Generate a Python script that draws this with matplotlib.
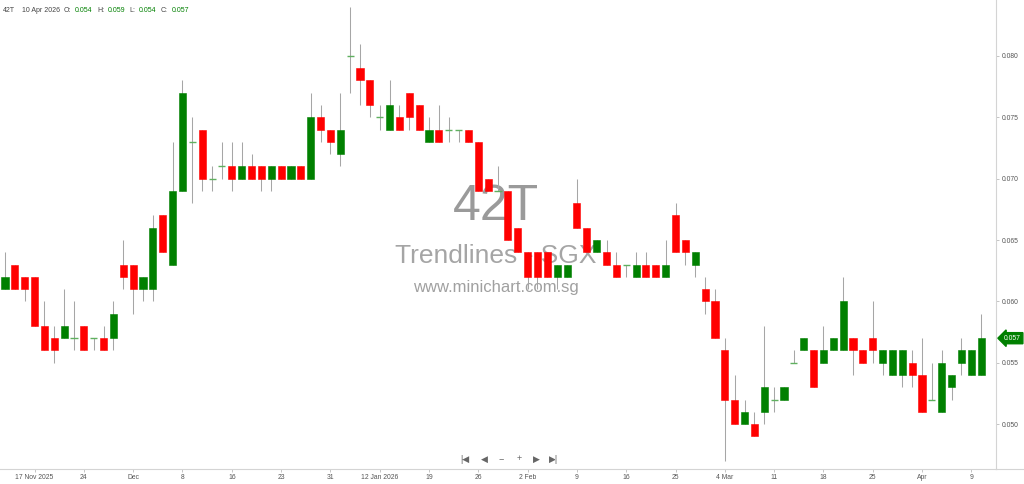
import matplotlib
matplotlib.use('Agg')

import matplotlib.pyplot as plt
import matplotlib.transforms as mtransforms
from matplotlib.lines import Line2D

plt.rcParams['font.family'] = ['Liberation Sans', 'DejaVu Sans']

# daily candles, 12 Nov 2025 .. 10 Apr 2026
opens = [0.061, 0.063, 0.062, 0.062, 0.058, 0.057, 0.057, 0.057, 0.058, 0.057,
         0.057, 0.057, 0.063, 0.063, 0.061, 0.061, 0.067, 0.063, 0.069, 0.073,
         0.074, 0.070, 0.071, 0.071, 0.070, 0.071, 0.071, 0.070, 0.071, 0.070,
         0.071, 0.070, 0.075, 0.074, 0.072, 0.080, 0.079, 0.078, 0.075, 0.074,
         0.075, 0.077, 0.076, 0.073, 0.074, 0.074, 0.074, 0.074, 0.073, 0.070,
         0.069, 0.069, 0.066, 0.064, 0.064, 0.064, 0.062, 0.062, 0.068, 0.066,
         0.064, 0.064, 0.063, 0.063, 0.062, 0.063, 0.063, 0.062, 0.067, 0.065,
         0.063, 0.061, 0.060, 0.056, 0.052, 0.050, 0.050, 0.051, 0.052, 0.052,
         0.055, 0.056, 0.056, 0.055, 0.056, 0.056, 0.057, 0.056, 0.057, 0.055,
         0.054, 0.054, 0.055, 0.054, 0.052, 0.051, 0.053, 0.055, 0.054, 0.054]
highs = [0.064, 0.063, 0.062, 0.062, 0.060, 0.058, 0.061, 0.060, 0.058, 0.057,
         0.058, 0.060, 0.065, 0.063, 0.062, 0.067, 0.067, 0.073, 0.078, 0.075,
         0.074, 0.071, 0.073, 0.073, 0.073, 0.072, 0.071, 0.071, 0.071, 0.071,
         0.071, 0.077, 0.076, 0.074, 0.077, 0.084, 0.081, 0.078, 0.076, 0.078,
         0.076, 0.077, 0.076, 0.075, 0.076, 0.075, 0.074, 0.074, 0.073, 0.070,
         0.071, 0.069, 0.066, 0.064, 0.064, 0.064, 0.063, 0.063, 0.070, 0.066,
         0.065, 0.065, 0.064, 0.063, 0.064, 0.064, 0.063, 0.065, 0.068, 0.065,
         0.064, 0.062, 0.061, 0.057, 0.054, 0.052, 0.051, 0.058, 0.053, 0.053,
         0.056, 0.057, 0.056, 0.058, 0.057, 0.062, 0.057, 0.056, 0.060, 0.056,
         0.056, 0.056, 0.056, 0.057, 0.055, 0.056, 0.054, 0.057, 0.056, 0.059]
lows = [0.061, 0.061, 0.060, 0.058, 0.056, 0.055, 0.057, 0.056, 0.056, 0.056,
        0.056, 0.056, 0.061, 0.059, 0.060, 0.060, 0.064, 0.063, 0.069, 0.068,
        0.069, 0.069, 0.070, 0.069, 0.070, 0.070, 0.069, 0.069, 0.070, 0.070,
        0.070, 0.070, 0.073, 0.072, 0.071, 0.077, 0.076, 0.075, 0.074, 0.074,
        0.074, 0.074, 0.074, 0.073, 0.073, 0.073, 0.073, 0.073, 0.069, 0.069,
        0.069, 0.065, 0.064, 0.061, 0.061, 0.062, 0.061, 0.062, 0.066, 0.064,
        0.064, 0.063, 0.062, 0.062, 0.062, 0.062, 0.062, 0.062, 0.064, 0.063,
        0.062, 0.059, 0.057, 0.047, 0.050, 0.050, 0.049, 0.050, 0.051, 0.052,
        0.055, 0.056, 0.053, 0.055, 0.056, 0.056, 0.054, 0.055, 0.055, 0.054,
        0.054, 0.053, 0.053, 0.051, 0.052, 0.051, 0.052, 0.054, 0.054, 0.054]
closes = [0.062, 0.061, 0.061, 0.058, 0.056, 0.056, 0.058, 0.057, 0.056, 0.057,
          0.056, 0.059, 0.062, 0.061, 0.062, 0.066, 0.064, 0.069, 0.077, 0.073,
          0.070, 0.070, 0.071, 0.070, 0.071, 0.070, 0.070, 0.071, 0.070, 0.071,
          0.070, 0.075, 0.074, 0.073, 0.074, 0.080, 0.078, 0.076, 0.075, 0.076,
          0.074, 0.075, 0.074, 0.074, 0.073, 0.074, 0.074, 0.073, 0.069, 0.069,
          0.069, 0.065, 0.064, 0.062, 0.062, 0.062, 0.063, 0.063, 0.066, 0.064,
          0.065, 0.063, 0.062, 0.063, 0.063, 0.062, 0.062, 0.063, 0.064, 0.064,
          0.064, 0.060, 0.057, 0.052, 0.050, 0.051, 0.049, 0.053, 0.052, 0.053,
          0.055, 0.057, 0.053, 0.056, 0.057, 0.060, 0.056, 0.055, 0.056, 0.056,
          0.056, 0.056, 0.054, 0.051, 0.052, 0.055, 0.054, 0.056, 0.056, 0.057]

tick_pos = [3, 8, 13, 18, 23, 28, 33, 38, 43, 48, 53, 58, 63, 68, 73, 78, 83, 88, 93, 98]
tick_labels = ['17 Nov 2025', '24', 'Dec', '8', '16', '23', '31', '12 Jan 2026', '19', '26',
               '2 Feb', '9', '16', '25', '4 Mar', '11', '18', '25', 'Apr', '9']
price_ticks = [0.050, 0.055, 0.060, 0.065, 0.070, 0.075, 0.080]

symbol = '42T'
last_date = '10 Apr 2026'

up_col = '#008000'
down_col = '#ff0000'
wick_col = '#a6a6a6'
doji_col = '#5fb05f'
axis_col = '#d4d4d4'
text_col = '#555555'

fig = plt.figure(figsize=(10.24, 4.84), dpi=100)
ax = fig.add_axes([0, 15 / 484, 996 / 1024, 469 / 484])

xs = list(range(len(opens)))
w = 0.72

# wicks first, bodies on top
ax.vlines(xs, lows, highs, color=wick_col, linewidth=0.75, zorder=2)
for i in xs:
    o, c = opens[i], closes[i]
    if abs(c - o) < 1e-9:
        ax.hlines(o, i - w / 2, i + w / 2, color=doji_col, linewidth=1.0, zorder=3)
    else:
        col = up_col if c > o else down_col
        ax.bar(i, abs(c - o), bottom=min(o, c), width=w, color=col,
               edgecolor=col, linewidth=0.4, zorder=3)

ax.set_xlim(-0.507, 100.5)
ax.set_ylim(0.04634, 0.08456)

# watermark
ax.text(0.498, 0.531, symbol, transform=ax.transAxes, ha='center', va='baseline',
        fontsize=36, color='#9a9a9a', zorder=1)
ax.text(0.498, 0.439, 'Trendlines - SGX', transform=ax.transAxes, ha='center',
        va='baseline', fontsize=19, color='#a5a5a5', zorder=1)
ax.text(0.498, 0.377, 'www.minichart.com.sg', transform=ax.transAxes, ha='center',
        va='baseline', fontsize=12, color='#a0a0a0', zorder=1)

# axes styling
for s in ['top', 'left']:
    ax.spines[s].set_visible(False)
ax.spines['right'].set_color(axis_col)
ax.spines['bottom'].set_color(axis_col)
ax.spines['right'].set_linewidth(0.8)
ax.spines['bottom'].set_linewidth(0.8)

ax.yaxis.tick_right()
ax.set_yticks(price_ticks)
ax.set_yticklabels(['%.3f' % p for p in price_ticks])
ax.set_xticks(tick_pos)
ax.set_xticklabels(tick_labels)
ax.tick_params(axis='both', direction='out', length=2.2, width=0.6, color='#bbbbbb',
               labelsize=4.9, labelcolor=text_col)
ax.tick_params(axis='y', pad=2.0)
ax.tick_params(axis='x', pad=1.5)

fig.add_artist(Line2D([996 / 1024, 1], [15 / 484, 15 / 484], color=axis_col, linewidth=0.8))

# last price tag
trans = mtransforms.blended_transform_factory(ax.transAxes, ax.transData)
ax.text(1.008, closes[-1], '%.3f' % closes[-1], transform=trans, ha='left', va='center',
        fontsize=4.9, color='white', clip_on=False,
        bbox=dict(boxstyle='larrow,pad=0.3', fc=up_col, ec=up_col))

# header line
hy = 1 - 10.7 / 484
parts = [(3, symbol, '#444444'), (22, last_date, '#444444'),
         (64, 'O:', '#444444'), (75, '%.3f' % opens[-1], up_col),
         (97, 'H:', '#444444'), (108, '%.3f' % highs[-1], up_col),
         (129, 'L:', '#444444'), (139, '%.3f' % lows[-1], up_col),
         (161, 'C:', '#444444'), (172, '%.3f' % closes[-1], up_col)]
for px, txt, col in parts:
    fig.text(px / 1024, hy, txt, ha='left', va='center', fontsize=5.0, color=col)

# navigation buttons
ny = 1 - 459 / 484
for px, txt in [(465, '|\u25c0'), (484, '\u25c0'), (501, '\u2212'), (519, '+'),
                (536, '\u25b6'), (554, '\u25b6|')]:
    fig.text(px / 1024, ny, txt, ha='center', va='center', fontsize=6.5, color='#666666')

fig.savefig('out.png', dpi=100)
